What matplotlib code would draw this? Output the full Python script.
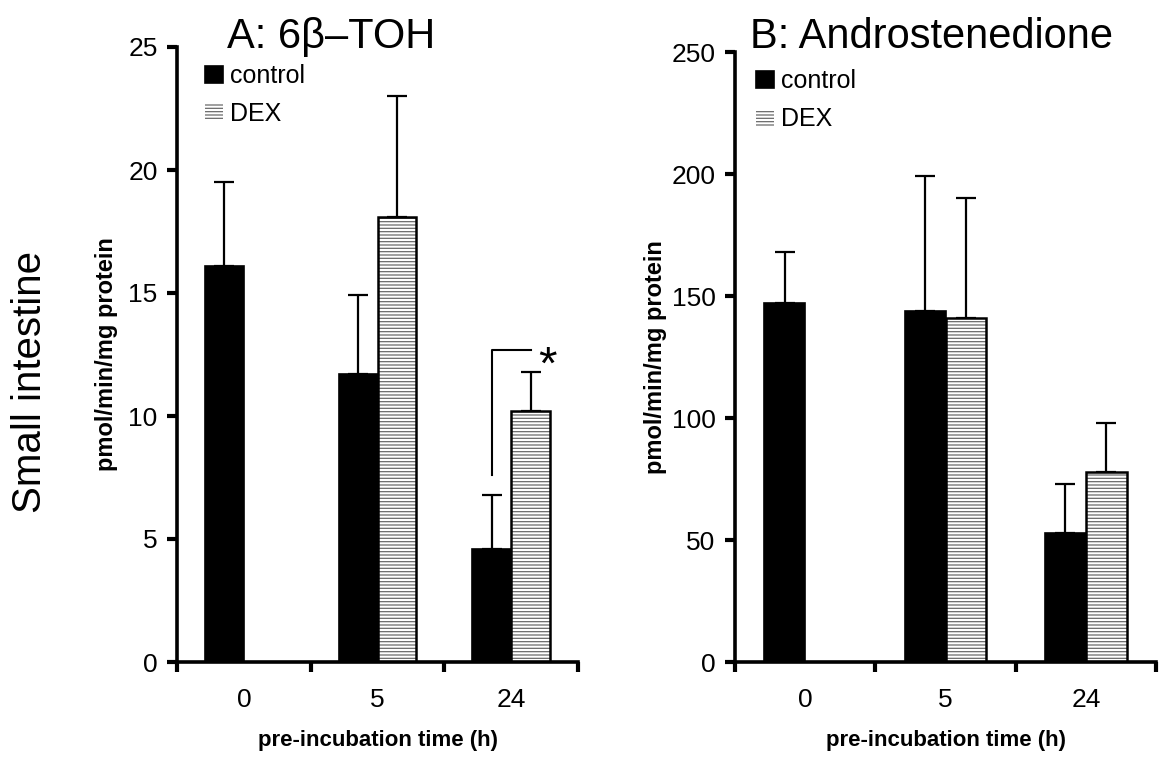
import numpy as np
import matplotlib
matplotlib.use("Agg")
import matplotlib.pyplot as plt
from matplotlib.ticker import FixedLocator, NullFormatter

plt.rcParams['font.family'] = ['Liberation Sans', 'DejaVu Sans']
plt.rcParams['hatch.linewidth'] = 0.9

# -------------------------
# data
# -------------------------
times = ["0", "5", "24"]

toh_control = [16.1, 11.7, 4.6]
toh_control_err = [3.4, 3.2, 2.2]
toh_dex = [np.nan, 18.1, 10.2]
toh_dex_err = [np.nan, 4.9, 1.6]

andro_control = [147, 144, 53]
andro_control_err = [21, 55, 20]
andro_dex = [np.nan, 141, 78]
andro_dex_err = [np.nan, 49, 20]

x = np.arange(len(times))
w = 0.29

fig = plt.figure(figsize=(11.63, 7.57), dpi=100)
axA = fig.add_axes([177/1163, 95/757, 401/1163, 615/757])
axB = fig.add_axes([735/1163, 95/757, 421/1163, 610/757])


def draw_panel(ax, ctrl, ctrl_err, dex, dex_err, ymax, ystep, leg_x, ylab_x):
    xc = x - w/2
    xd = x + w/2
    ax.bar(xc, ctrl, w, color="black", edgecolor="black", linewidth=1.2,
           label="control", zorder=2)
    # hatch in grey, outline in black
    ax.bar(xd, dex, w, color="white", edgecolor="#6a6a6a", hatch="-----",
           linewidth=0, label="DEX", zorder=2)
    ax.bar(xd, dex, w, color="none", edgecolor="black", linewidth=1.8, zorder=3)

    ce = np.array(ctrl_err)
    de = np.array(dex_err)
    ax.errorbar(xc, ctrl, yerr=[np.zeros_like(ce), ce], fmt="none", ecolor="black",
                elinewidth=1.6, capsize=7, capthick=1.6, zorder=1)
    ax.errorbar(xd, dex, yerr=[np.zeros_like(de), de], fmt="none", ecolor="black",
                elinewidth=1.6, capsize=7, capthick=1.6, zorder=1)

    ax.set_xlim(-0.5, 2.5)
    ax.set_ylim(0, ymax)
    ax.set_yticks(np.arange(0, ymax + 1e-9, ystep))
    ax.set_xticks(x)
    ax.set_xticklabels(times)
    ax.xaxis.set_minor_locator(FixedLocator([-0.5, 0.5, 1.5, 2.5]))
    ax.xaxis.set_minor_formatter(NullFormatter())
    ax.tick_params(axis="x", which="major", length=0, pad=19, labelsize=19)
    ax.tick_params(axis="x", which="minor", length=7, width=3, direction="out")
    ax.tick_params(axis="y", length=7, width=3, direction="out", pad=7, labelsize=19)

    for s in ["top", "right"]:
        ax.spines[s].set_visible(False)
    for s in ["left", "bottom"]:
        ax.spines[s].set_linewidth(2.6)
    ax.spines["left"].set_bounds(0, ymax)

    ax.set_xlabel("pre-incubation time (h)", fontsize=16, fontweight="bold", labelpad=13)
    ax.set_ylabel("pmol/min/mg protein", fontsize=17, fontweight="bold")
    ax.yaxis.set_label_coords(ylab_x, 0.5)

    ax.legend(loc="upper left", bbox_to_anchor=(leg_x, 0.972), frameon=False,
              fontsize=18, handlelength=0.7, handleheight=0.7, handletextpad=0.3,
              labelspacing=0.56, borderpad=0, borderaxespad=0)


draw_panel(axA, toh_control, toh_control_err, toh_dex, toh_dex_err, 25, 5, 0.07, -0.148)
draw_panel(axB, andro_control, andro_control_err, andro_dex, andro_dex_err, 250, 50, 0.05, -0.162)

# significance bracket at 24 h (panel A)
br_y = 12.7
axA.plot([x[2] - w/2, x[2] - w/2, x[2] + w/2], [7.6, br_y, br_y],
         color="black", linewidth=1.5, zorder=4)
axA.text(x[2] + w/2 + 0.13, br_y - 0.7, "*", fontsize=34, ha="center", va="center")

fig.text(227/1163, 1 - 48/757, "A: 6\u03b2\u2013TOH", fontsize=30, ha="left", va="baseline")
fig.text(750/1163, 1 - 48/757, "B: Androstenedione", fontsize=30, ha="left", va="baseline")
fig.text(30/1163, 1 - 382/757, "Small intestine", fontsize=29, rotation=90,
         ha="center", va="center")

fig.savefig("out.png", dpi=100)
